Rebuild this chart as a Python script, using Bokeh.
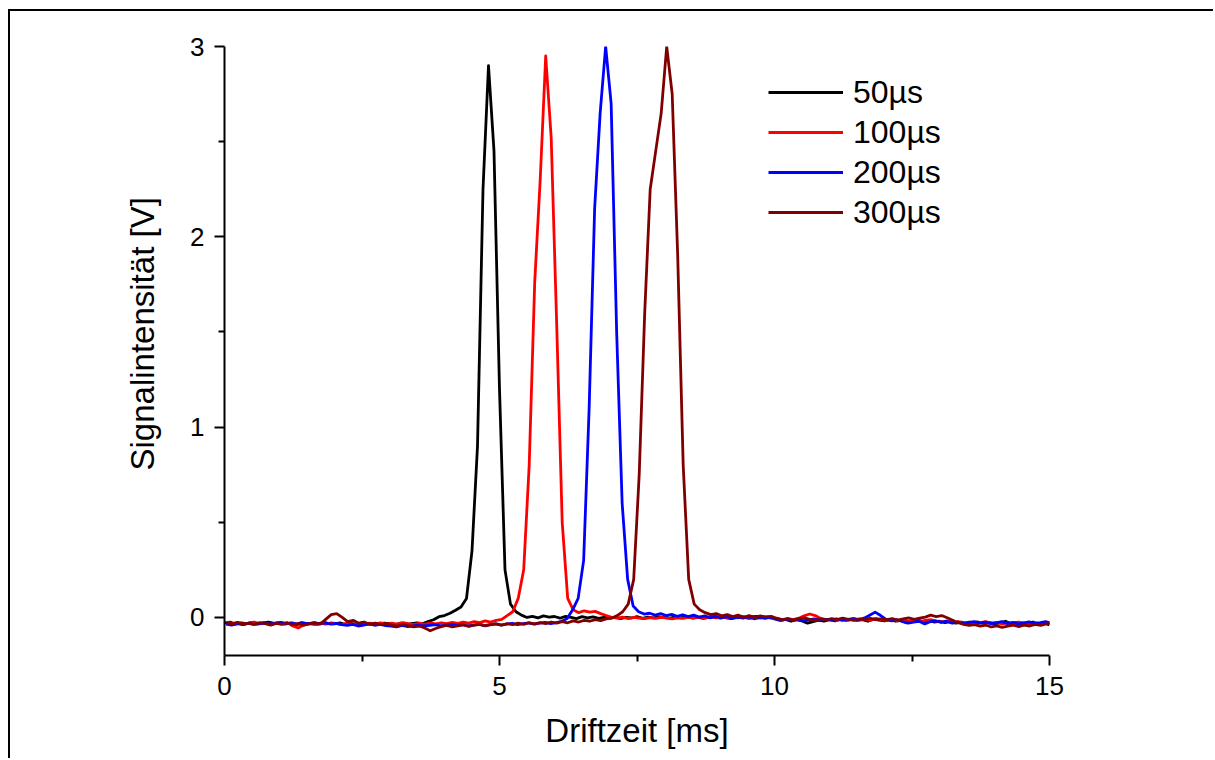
from bokeh.plotting import figure
from bokeh.models import FixedTicker, Legend, LegendItem, Title
from bokeh.embed import file_html
from bokeh.resources import INLINE

# ---------------- data ----------------
labels = ["50µs", "100µs", "200µs", "300µs"]
colors = ["#000000", "#ff0000", "#0000ff", "#800000"]
# sampling of each trace: first time (ms) and step (ms)
x_start = [0.0, 0.04, 0.03, 0.04]
x_step = 0.1

y_50us = [
    -0.03, -0.025, -0.035, -0.028, -0.032, -0.026, -0.034, -0.029, -0.024, -0.031,
    -0.028, -0.035, -0.03, -0.038, -0.027, -0.033, -0.03, -0.036, -0.026, -0.032,
    -0.034, -0.029, -0.037, -0.031, -0.036, -0.028, -0.035, -0.032, -0.038, -0.03,
    -0.033, -0.039, -0.03, -0.036, -0.032, -0.028, -0.034, -0.022, -0.012, 0.004,
    0.01, 0.022, 0.038, 0.055, 0.1, 0.35, 0.9, 2.25, 2.9, 2.45,
    1.2, 0.25, 0.07, 0.03, 0.012, 0.0, 0.006, -0.002, 0.008, 0.002,
    0.005, -0.004, 0.006, 0.0, -0.006, 0.004, -0.002, 0.003, -0.005, 0.001,
    -0.004, 0.002, -0.006, 0.0, -0.003, 0.004, -0.005, 0.002, -0.002, 0.003,
    0.0, -0.004, 0.003, -0.002, 0.004, -0.003, 0.002, -0.005, 0.001, 0.004,
    -0.003, 0.002, -0.006, 0.001, 0.005, -0.002, 0.004, 0.006, -0.001, 0.003,
    -0.008, -0.015, -0.01, -0.02, -0.012, -0.018, -0.03, -0.022, -0.014, -0.02,
    -0.012, -0.018, -0.008, -0.015, -0.01, -0.016, -0.012, -0.02, -0.009, -0.014,
    -0.018, -0.012, -0.02, -0.015, -0.028, -0.02, -0.014, -0.022, -0.017, -0.024,
    -0.02, -0.027, -0.022, -0.03, -0.025, -0.033, -0.028, -0.024, -0.031, -0.026,
    -0.034, -0.028, -0.02, -0.032, -0.026, -0.035, -0.03, -0.024, -0.036, -0.029,
    -0.04,
]

y_100us = [
    -0.025, -0.032, -0.027, -0.035, -0.03, -0.024, -0.033, -0.028, -0.036, -0.03,
    -0.034, -0.027, -0.045, -0.055, -0.04, -0.032, -0.038, -0.03, -0.035, -0.028,
    -0.033, -0.038, -0.029, -0.036, -0.031, -0.037, -0.03, -0.034, -0.028, -0.036,
    -0.03, -0.035, -0.027, -0.033, -0.038, -0.03, -0.036, -0.029, -0.034, -0.028,
    -0.032, -0.026, -0.031, -0.024, -0.03, -0.022, -0.027, -0.018, -0.024, -0.015,
    -0.01, 0.01, 0.03, 0.1, 0.25, 0.8, 1.76, 2.3, 2.95, 2.52,
    1.54, 0.5, 0.1, 0.04, 0.025, 0.035, 0.028, 0.032, 0.02, 0.01,
    0.0, -0.004, 0.002, -0.006, 0.0, -0.003, -0.006, -0.001, -0.005, 0.0,
    -0.003, -0.007, -0.002, -0.005, 0.001, -0.004, 0.002, -0.003, 0.003, -0.002,
    0.002, -0.004, 0.003, -0.002, 0.004, -0.006, 0.0, -0.004, 0.002, -0.003,
    -0.008, -0.014, -0.006, -0.012, -0.004, 0.008, 0.018, 0.01, -0.005, -0.012,
    -0.01, -0.016, -0.008, -0.014, -0.006, -0.013, -0.009, -0.016, -0.005, -0.012,
    -0.015, -0.01, -0.018, -0.012, -0.02, -0.014, -0.022, -0.016, -0.012, -0.019,
    -0.024, -0.018, -0.028, -0.022, -0.03, -0.025, -0.032, -0.027, -0.022, -0.03,
    -0.026, -0.034, -0.029, -0.036, -0.024, -0.03, -0.038, -0.028, -0.033, -0.027,
    -0.03,
]

y_200us = [
    -0.035, -0.04, -0.033, -0.038, -0.031, -0.037, -0.034, -0.028, -0.036, -0.03,
    -0.026, -0.033, -0.029, -0.036, -0.03, -0.034, -0.027, -0.032, -0.029, -0.035,
    -0.031, -0.038, -0.042, -0.036, -0.045, -0.04, -0.034, -0.041, -0.037, -0.043,
    -0.046, -0.05, -0.042, -0.048, -0.044, -0.039, -0.045, -0.041, -0.038, -0.044,
    -0.04, -0.036, -0.042, -0.038, -0.045, -0.04, -0.036, -0.043, -0.038, -0.034,
    -0.04, -0.035, -0.031, -0.038, -0.033, -0.029, -0.035, -0.03, -0.026, -0.032,
    -0.027, -0.02, -0.005, 0.04, 0.1, 0.3, 1.1, 2.15, 2.65, 3.0,
    2.7, 1.5, 0.6, 0.2, 0.06, 0.03, 0.018, 0.022, 0.012, 0.02,
    0.01, 0.016, 0.006, 0.014, 0.004, 0.012, 0.002, 0.008, -0.002, 0.006,
    -0.003, 0.004, -0.006, 0.002, -0.004, 0.003, -0.007, 0.0, -0.005, 0.002,
    -0.008, -0.014, -0.009, -0.016, -0.011, -0.018, -0.012, -0.008, -0.015, -0.01,
    -0.014, -0.008, -0.016, -0.01, -0.006, -0.012, -0.004, 0.012, 0.028, 0.01,
    -0.01, -0.018, -0.012, -0.022, -0.03, -0.024, -0.02, -0.034, -0.022, -0.018,
    -0.026, -0.02, -0.03, -0.024, -0.032, -0.026, -0.022, -0.03, -0.025, -0.033,
    -0.028, -0.022, -0.032, -0.026, -0.034, -0.028, -0.023, -0.031, -0.027, -0.022,
    -0.03,
]

y_300us = [
    -0.028, -0.034, -0.026, -0.038, -0.03, -0.036, -0.027, -0.033, -0.04, -0.031,
    -0.036, -0.029, -0.037, -0.032, -0.04, -0.034, -0.028, -0.035, -0.01, 0.015,
    0.02, 0.0, -0.022, -0.015, -0.03, -0.024, -0.036, -0.03, -0.038, -0.033,
    -0.04, -0.046, -0.037, -0.043, -0.05, -0.045, -0.055, -0.07, -0.058, -0.048,
    -0.042, -0.05, -0.044, -0.039, -0.047, -0.041, -0.036, -0.044, -0.038, -0.034,
    -0.04, -0.033, -0.038, -0.03, -0.036, -0.028, -0.034, -0.027, -0.032, -0.024,
    -0.03, -0.022, -0.028, -0.018, -0.024, -0.015, -0.02, -0.012, -0.017, -0.008,
    -0.004, 0.01, 0.03, 0.07, 0.2, 0.75, 1.6, 2.25, 2.45, 2.65,
    3.0, 2.75, 1.9, 0.8, 0.2, 0.07, 0.04, 0.025, 0.015, 0.02,
    0.008, 0.015, 0.004, 0.012, 0.0, 0.01, -0.002, 0.008, 0.003, 0.006,
    -0.004, -0.012, -0.006, -0.014, -0.008, -0.002, -0.01, -0.016, -0.008, -0.013,
    -0.006, -0.012, -0.004, -0.01, -0.015, -0.008, -0.013, -0.005, -0.011, -0.007,
    -0.012, -0.006, -0.014, -0.008, -0.002, -0.01, -0.004, 0.002, 0.012, 0.004,
    0.01, -0.002, -0.015, -0.028, -0.036, -0.042, -0.038, -0.046, -0.04, -0.05,
    -0.044, -0.052, -0.046, -0.041, -0.048, -0.04, -0.045, -0.036, -0.042, -0.034,
    -0.03,
]

series = [y_50us, y_100us, y_200us, y_300us]

x_ticks = [0, 5, 10, 15]
x_minor = [2.5, 7.5, 12.5]
y_ticks = [0, 1, 2, 3]
y_minor = [0.5, 1.5, 2.5]

x_title = "Driftzeit [ms]"
y_title = "Signalintensität [V]"

# ---------------- figure ----------------
FONT = "Liberation Sans"

p = figure(width=1205, height=749, x_range=(0, 15), y_range=(-0.2, 3),
           output_backend="svg", toolbar_location=None,
           min_border_left=214, min_border_right=166,
           min_border_top=35, min_border_bottom=105)
p.styles = {"border-style": "solid none none solid",
            "border-width": "2px 0px 0px 2px",
            "border-color": "black",
            "margin-left": "8px", "margin-top": "9px"}
p.outline_line_color = None
p.grid.visible = False
p.background_fill_color = "white"
p.border_fill_color = "white"

items = []
for lab, col, x0, ys in zip(labels, colors, x_start, series):
    xs = [x0 + x_step * i for i in range(len(ys))]
    r = p.line(xs, ys, line_color=col, line_width=2.8, line_join="round")
    items.append(LegendItem(label=lab, renderers=[r]))

p.xaxis.ticker = FixedTicker(ticks=x_ticks, minor_ticks=x_minor)
p.yaxis.ticker = FixedTicker(ticks=y_ticks, minor_ticks=y_minor)

for ax in (p.xaxis, p.yaxis):
    ax.axis_line_width = 2
    ax.axis_line_color = "black"
    ax.major_tick_line_width = 2
    ax.major_tick_line_color = "black"
    ax.minor_tick_line_width = 2
    ax.minor_tick_line_color = "black"
    ax.major_tick_in = 0
    ax.major_tick_out = 10
    ax.minor_tick_in = 0
    ax.minor_tick_out = 6
    ax.major_label_text_font = FONT
    ax.major_label_text_font_size = "26px"
    ax.major_label_text_color = "black"
    ax.axis_label_text_font = FONT
    ax.axis_label_text_font_style = "normal"
    ax.axis_label_text_color = "black"

p.xaxis.axis_label = x_title
p.xaxis.axis_label_text_font_size = "33px"
p.xaxis.major_label_standoff = 11
p.yaxis.major_label_standoff = 10
p.xaxis.axis_label_standoff = 14

# y title as a side title (reads bottom-to-top), starting where the reference starts
y_label = Title(text=y_title, align="left", offset=185, standoff=53,
                text_font=FONT, text_font_size="33px", text_font_style="normal",
                text_color="black")
p.add_layout(y_label, "left")

legend = Legend(items=items, location=(544, 423))
legend.border_line_color = None
legend.background_fill_alpha = 0
legend.padding = 0
legend.margin = 0
legend.spacing = 0
legend.glyph_width = 75
legend.glyph_height = 40
legend.label_height = 40
legend.label_standoff = 10
legend.label_text_font = FONT
legend.label_text_font_size = "32px"
legend.label_text_color = "black"
p.add_layout(legend)

open("out.html", "w").write(file_html(p, INLINE))
